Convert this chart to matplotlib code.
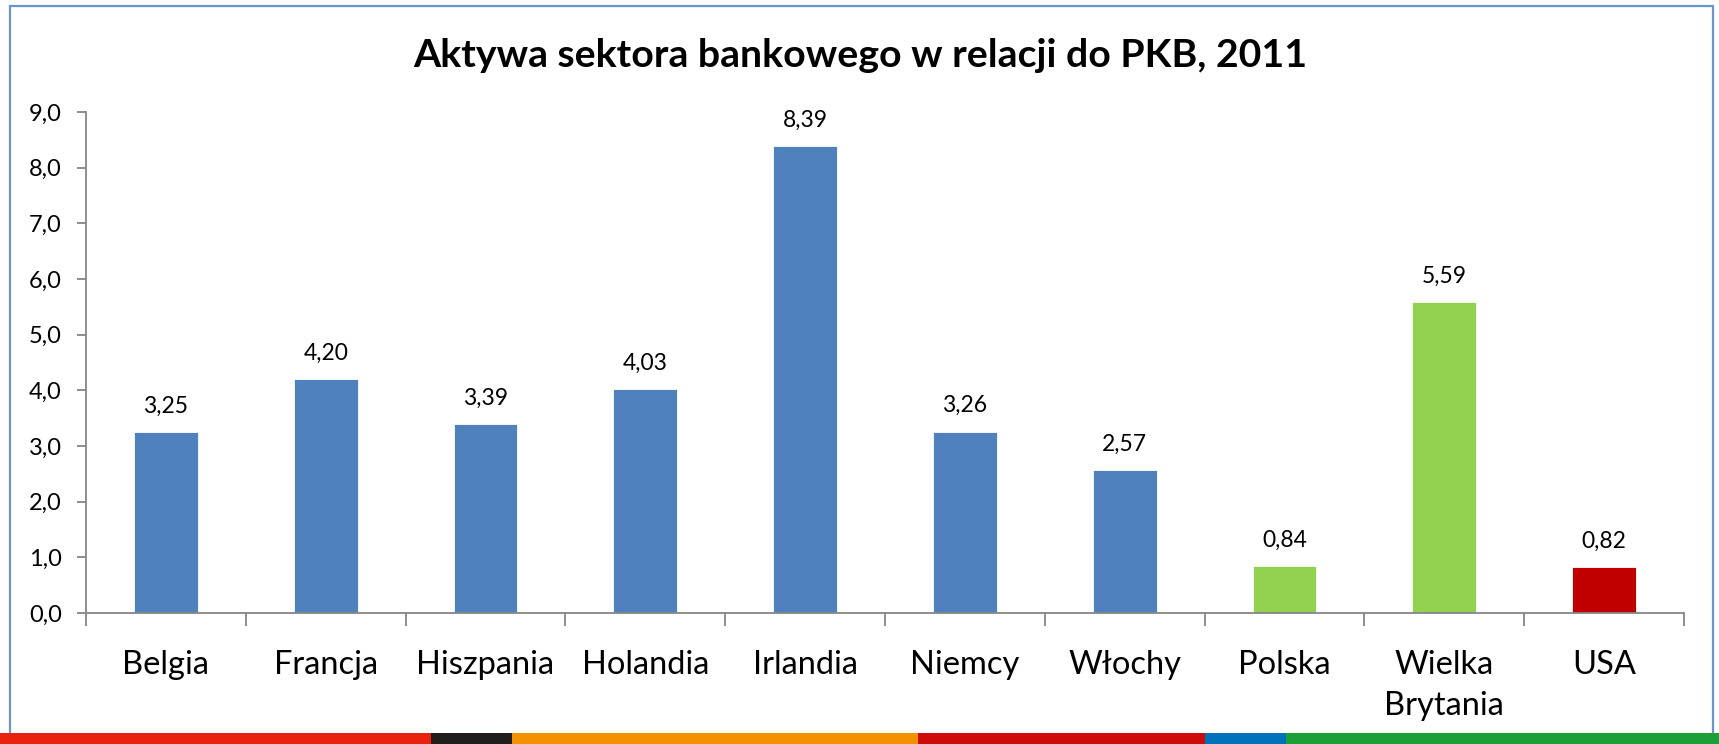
import matplotlib
matplotlib.use("Agg")
from matplotlib import pyplot as plt
from matplotlib.patches import Rectangle
import numpy as np

plt.rcParams['font.family'] = ['Lato', 'DejaVu Sans']

# dane
kraje = ['Belgia', 'Francja', 'Hiszpania', 'Holandia', 'Irlandia',
         'Niemcy', 'Włochy', 'Polska', 'Wielka\nBrytania', 'USA']
wartosci = [3.25, 4.20, 3.39, 4.03, 8.39, 3.26, 2.57, 0.84, 5.59, 0.82]
kolory = ['#4F81BD'] * 7 + ['#92D050', '#92D050', '#C00000']
yticks = np.arange(0, 9.5, 1.0)

# pasek na dole (kolory i granice w pikselach szerokosci 1719)
pasek_kolory = ['#E8200C', '#201D1A', '#F39200', '#CF0A0A', '#0072BC', '#1BA037']
pasek_granice = [0, 431, 512, 918, 1205, 1286, 1719]

fig = plt.figure(figsize=(17.19, 7.44), dpi=100)
W, H = 1719, 744

ax = fig.add_axes([86 / W, 1 - 613 / H, (1684 - 86) / W, (613 - 112) / H])
x = np.arange(len(kraje))
bars = ax.bar(x, wartosci, width=0.4, color=kolory, edgecolor='white', linewidth=0.6, zorder=2)

for xi, v in zip(x, wartosci):
    ax.annotate(f"{v:.2f}".replace('.', ','), (xi, v), xytext=(0, 11),
                textcoords='offset points', ha='center', va='bottom', fontsize=16.5)

ax.set_xlim(-0.5, len(kraje) - 0.5)
ax.set_ylim(0, 9)
ax.set_yticks(yticks)
ax.set_yticklabels([f"{t:.1f}".replace('.', ',') for t in yticks], fontsize=17)
ax.set_xticks(x)
ax.set_xticklabels(kraje, fontsize=23.5, linespacing=1.45, va='top')
ax.set_xticks(np.arange(-0.5, len(kraje)), minor=True)
ax.tick_params(axis='x', which='major', length=0, pad=27)
ax.tick_params(axis='x', which='minor', length=9, width=1.3, color='#868686')
ax.tick_params(axis='y', length=6.5, width=1.3, color='#868686', pad=11)

for s in ['top', 'right']:
    ax.spines[s].set_visible(False)
for s in ['left', 'bottom']:
    ax.spines[s].set_color('#868686')
    ax.spines[s].set_linewidth(1.3)

fig.text(860 / W, 1 - 67 / H, 'Aktywa sektora bankowego w relacji do PKB, 2011',
         ha='center', va='baseline', fontsize=28.3, fontweight='bold')

# ramka
fig.patches.append(Rectangle((10 / W, 0), (1713 - 10) / W, 1 - 6 / H,
                             transform=fig.transFigure, fill=False,
                             edgecolor='#6A93CF', linewidth=1.6))

for i, c in enumerate(pasek_kolory):
    x0 = pasek_granice[i] / W
    x1 = pasek_granice[i + 1] / W
    fig.patches.append(Rectangle((x0, 0), x1 - x0, 11 / H, transform=fig.transFigure,
                                 facecolor=c, edgecolor='none', zorder=5))

fig.savefig('out.png', dpi=100)
